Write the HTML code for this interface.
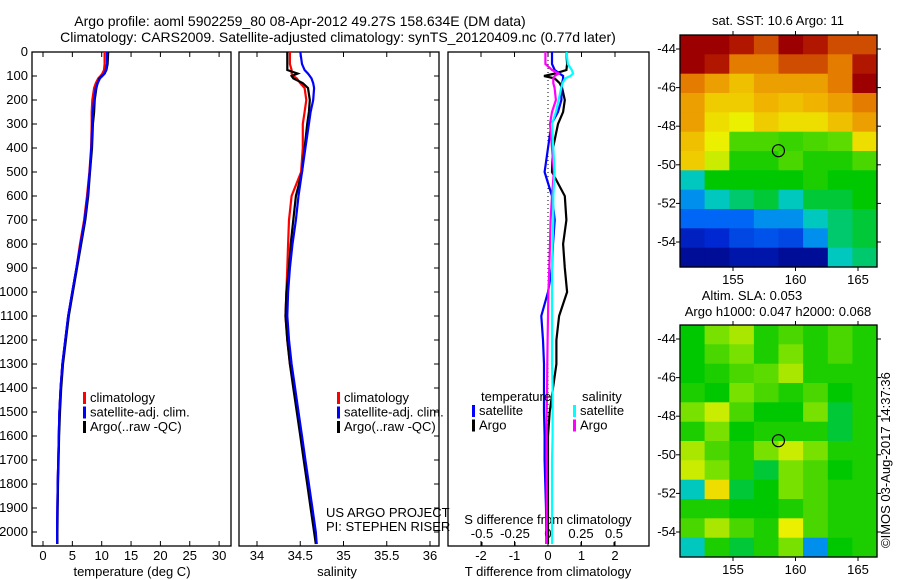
<!DOCTYPE html>
<html><head><meta charset="utf-8"><style>
html,body{margin:0;padding:0;background:#fff}
svg{display:block;font-family:"Liberation Sans",sans-serif;font-size:13px}
</style></head><body>
<svg id="c" width="900" height="580" viewBox="0 0 900 580">
<text x="300" y="26" text-anchor="middle" font-size="14">Argo profile: aoml 5902259_80 08-Apr-2012 49.27S 158.634E (DM data)</text>
<text x="338" y="42" text-anchor="middle" font-size="14">Climatology: CARS2009. Satellite-adjusted climatology: synTS_20120409.nc (0.77d later)</text>
<text x="778" y="25" text-anchor="middle">sat. SST: 10.6 Argo: 11</text>
<text x="752" y="300" text-anchor="middle">Altim. SLA: 0.053</text>
<text x="778" y="316" text-anchor="middle">Argo h1000: 0.047 h2000: 0.068</text>
<text transform="translate(890,548) rotate(-90)">©IMOS 03-Aug-2017 14:37:36</text>
<g id="g"></g>
</svg>
<script>
const depths=[0,50,75,90,100,110,130,150,200,250,300,400,500,600,700,800,900,1000,1100,1200,1300,1400,1500,1600,1700,1800,1900,2000,2050];
const tempArgo=[11.1,11.0,10.8,10.5,10.0,9.6,9.3,9.1,8.8,8.7,8.5,8.35,8.0,7.7,7.2,6.5,5.8,5.1,4.4,3.9,3.4,3.1,2.9,2.75,2.65,2.55,2.5,2.45,2.45];
const tempClim=[10.5,10.5,10.4,10.1,9.8,9.4,9.0,8.7,8.4,8.3,8.3,8.2,7.9,7.5,7.0,6.3,5.7,5.0,4.3,3.8,3.3,3.0,2.8,2.7,2.6,2.5,2.45,2.4,2.4];
const tempSat=[10.9,10.9,10.7,10.5,10.1,9.7,9.3,9.0,8.7,8.5,8.4,8.25,7.95,7.6,7.1,6.4,5.7,5.0,4.3,3.8,3.3,3.0,2.8,2.7,2.6,2.5,2.45,2.4,2.4];
const salArgo=[34.35,34.35,34.35,34.47,34.40,34.42,34.53,34.59,34.61,34.60,34.58,34.55,34.52,34.45,34.42,34.39,34.37,34.34,34.33,34.35,34.38,34.42,34.46,34.50,34.54,34.58,34.62,34.66,34.68];
const salClim=[34.38,34.38,34.40,34.40,34.42,34.46,34.50,34.55,34.57,34.55,34.53,34.53,34.51,34.40,34.37,34.36,34.35,34.34,34.33,34.35,34.38,34.43,34.47,34.51,34.55,34.59,34.63,34.67,34.69];
const salSat=[34.50,34.52,34.55,34.59,34.61,34.63,34.65,34.66,34.65,34.62,34.60,34.56,34.52,34.48,34.45,34.41,34.38,34.36,34.35,34.37,34.40,34.44,34.48,34.52,34.56,34.60,34.64,34.68,34.69];
const tdiffArgo=[0.55,0.57,0.55,0.2,-0.12,0.2,0.35,0.42,0.5,0.45,0.3,0.15,0.12,0.5,0.55,0.45,0.5,0.57,0.33,0.25,0.25,0.15,0.05,0,0,0,0,0,0];
const tdiffSat=[0.12,0.12,0.2,0.35,0.45,0.45,0.42,0.4,0.4,0.3,0.1,0,-0.1,0.12,0.2,0.15,0.12,0,-0.2,-0.15,-0.12,-0.12,-0.12,-0.1,-0.1,-0.08,-0.06,-0.05,-0.05];
const sdiffArgo=[-0.02,-0.02,0.03,0.08,0.05,0.04,0.04,0.05,0.06,0.03,0.015,0.03,0.045,0.03,0.02,0.015,0.01,0.003,0.0,-0.003,-0.005,-0.007,-0.01,-0.01,-0.01,-0.01,-0.01,-0.01,-0.01];
const sdiffSat=[0.14,0.15,0.18,0.19,0.17,0.13,0.11,0.1,0.08,0.06,0.03,0.04,0.05,0.04,0.04,0.035,0.03,0.03,0.03,0.03,0.03,0.035,0.035,0.035,0.03,0.03,0.03,0.03,0.03];
const depthTicks=[0,100,200,300,400,500,600,700,800,900,1000,1100,1200,1300,1400,1500,1600,1700,1800,1900,2000];
const tempTicks=[0,5,10,15,20,25,30];
const salTicks=[34,34.5,35,35.5,36];
const tdTicks=[-2,-1,0,1,2];
const sdTicks=[-0.5,-0.25,0,0.25,0.5];
const latTicks=[-44,-46,-48,-50,-52,-54];
const lonTicks=[155,160,165];
const sstGrid=[
[0.95,0.95,0.9,0.85,0.95,0.9,0.85,0.85],
[0.95,0.9,0.8,0.8,0.85,0.85,0.8,0.9],
[0.8,0.75,0.7,0.75,0.75,0.75,0.8,0.95],
[0.75,0.68,0.68,0.72,0.7,0.72,0.75,0.8],
[0.75,0.65,0.62,0.68,0.65,0.65,0.7,0.75],
[0.7,0.62,0.5,0.5,0.48,0.5,0.52,0.65],
[0.68,0.6,0.45,0.45,0.5,0.45,0.45,0.5],
[0.35,0.42,0.42,0.42,0.42,0.45,0.42,0.42],
[0.3,0.35,0.38,0.4,0.35,0.4,0.4,0.42],
[0.25,0.25,0.25,0.3,0.3,0.35,0.38,0.4],
[0.12,0.15,0.2,0.22,0.2,0.3,0.38,0.4],
[0.05,0.05,0.08,0.08,0.05,0.05,0.35,0.38]];
const slaGrid=[
[0.42,0.55,0.58,0.45,0.5,0.45,0.5,0.45],
[0.42,0.5,0.55,0.45,0.55,0.45,0.5,0.45],
[0.42,0.45,0.5,0.52,0.58,0.45,0.45,0.45],
[0.45,0.42,0.55,0.5,0.45,0.5,0.42,0.45],
[0.55,0.6,0.5,0.42,0.42,0.55,0.4,0.45],
[0.45,0.55,0.42,0.45,0.45,0.45,0.4,0.45],
[0.58,0.5,0.45,0.55,0.6,0.55,0.45,0.45],
[0.6,0.55,0.45,0.4,0.55,0.5,0.42,0.45],
[0.35,0.65,0.4,0.42,0.55,0.5,0.45,0.45],
[0.45,0.45,0.42,0.42,0.45,0.5,0.45,0.45],
[0.5,0.58,0.5,0.45,0.62,0.5,0.45,0.45],
[0.35,0.45,0.4,0.45,0.55,0.3,0.42,0.45]];
const argoLon=158.634, argoLat=-49.27;

const NS='http://www.w3.org/2000/svg';
const G=document.getElementById('g');
function mk(tag,attrs,parent){const e=document.createElementNS(NS,tag);for(const k in attrs)e.setAttribute(k,attrs[k]);(parent||G).appendChild(e);return e;}
function txt(x,y,s,anchor,parent){const t=mk('text',{x:x,y:y,'text-anchor':anchor||'start'},parent);t.textContent=s;return t;}
const Y=d=>52+d*0.24;
const PB=546;
function panel(x0,x1,name){const r=mk('rect',{x:x0,y:52,width:x1-x0,height:PB-52,fill:'none',stroke:'#000','stroke-width':1.3});

}
function line(xs,xf,color,name){let p='';for(let i=0;i<depths.length;i++){const x=xf(xs[i]).toFixed(1);const y=Y(depths[i]).toFixed(1);p+=(i?'L':'M')+x+','+y;}
const e=mk('path',{d:p,fill:'none',stroke:color,'stroke-width':2.2});

}
function xticks(ticks,xf,labels,y){ticks.forEach((t,i)=>{const x=xf(t);mk('line',{x1:x,x2:x,y1:PB,y2:PB-5,stroke:'#000'});mk('line',{x1:x,x2:x,y1:52,y2:57,stroke:'#000'});
const l=txt(x,y,labels[i],'middle');

});}
const tX=v=>43+v*5.87;
panel(32,231,'temperature-panel');
depthTicks.forEach(d=>{mk('line',{x1:32,x2:37,y1:Y(d),y2:Y(d),stroke:'#000'});
const l=txt(28,Y(d)+4,String(d),'end');

});
xticks(tempTicks,tX,tempTicks.map(String),560);
line(tempClim,tX,'#f00','temp-climatology-line');
line(tempSat,tX,'#00f','temp-satellite-line');
line(tempArgo,tX,'#000','temp-argo-line');
line(tempSat,tX,'#00f','temp-satellite-line-top');
let a=txt(132,576,'temperature (deg C)','middle');


function legend(x,y,items,prefix){items.forEach((it,i)=>{mk('rect',{x:x,y:y+i*14.5-10,width:3,height:12,fill:it[0]});
const t=txt(x+7,y+i*14.5,it[1]);

});}
legend(83,402,[['#f00','climatology'],['#00f','satellite-adj. clim.'],['#000','Argo(..raw -QC)']],'temperature');
const sX=v=>257+(v-34)*86.5;
panel(239,439,'salinity-panel');
depthTicks.forEach(d=>{mk('line',{x1:439,x2:434,y1:Y(d),y2:Y(d),stroke:'#000'});});
xticks(salTicks,sX,['34','34.5','35','35.5','36'],560);
line(salClim,sX,'#f00','sal-climatology-line');
line(salArgo,sX,'#000','sal-argo-line');
line(salSat,sX,'#00f','sal-satellite-line');
a=txt(337,576,'salinity','middle');


legend(337,402,[['#f00','climatology'],['#00f','satellite-adj. clim.'],['#000','Argo(..raw -QC)']],'salinity');
a=txt(326,517,'US ARGO PROJECT');


a=txt(326,531,'PI: STEPHEN RISER');


const tdX=v=>548+v*33.5;
const sdX=v=>548+v*132;
panel(448,649,'difference-panel');
xticks(tdTicks,tdX,tdTicks.map(String),560);
sdTicks.forEach(t=>{const x=sdX(t);mk('line',{x1:x,x2:x,y1:PB,y2:PB-4,stroke:'#000'});});
['-0.5','-0.25','0','0.25','0.5'].forEach((s,i)=>{const l=txt(sdX(sdTicks[i]),538,s,'middle');

});
a=txt(548,524,'S difference from climatology','middle');


a=txt(548,576,'T difference from climatology','middle');


mk('line',{x1:548,x2:548,y1:52,y2:PB,stroke:'#000','stroke-dasharray':'1,3'});
line(tdiffArgo,tdX,'#000','tdiff-argo-line');
line(tdiffSat,tdX,'#00f','tdiff-satellite-line');
line(sdiffArgo,sdX,'#f0f','sdiff-argo-line');
line(sdiffSat,sdX,'#0ff','sdiff-satellite-line');
a=txt(481,401,'temperature');


legend(472,415,[['#00f','satellite'],['#000','Argo']],'tdiff');
a=txt(582,401,'salinity');


legend(573,415,[['#0ff','satellite'],['#f0f','Argo']],'sdiff');
const stops=[[0,[0,0,122]],[0.15,[0,40,210]],[0.28,[0,120,255]],[0.35,[0,200,190]],[0.42,[0,200,0]],[0.55,[120,225,0]],[0.62,[235,240,0]],[0.72,[240,180,0]],[0.82,[225,110,0]],[0.92,[165,0,0]],[1,[140,0,0]]];
function cmap(v){for(let i=1;i<stops.length;i++){if(v<=stops[i][0]){const a=stops[i-1],b=stops[i];const f=(v-a[0])/(b[0]-a[0]);const c=a[1].map((x,k)=>Math.round(x+(b[1][k]-x)*f));return 'rgb('+c+')';}}return 'rgb(140,0,0)';}
const lonX=l=>733+(l-155)*12.5;
function map(y0,grid,name){const x0=680,x1=877,y1=y0+232;const latY=l=>y0+14+(-44-l)*19.3;
const rows=grid.length,cols=grid[0].length;const cw=(x1-x0)/cols,rh=(y1-y0)/rows;
const g=mk('g',{});

grid.forEach((row,r)=>row.forEach((v,c)=>{const cell=mk('rect',{x:(x0+c*cw).toFixed(1),y:(y0+r*rh).toFixed(1),width:(cw+0.6).toFixed(1),height:(rh+0.6).toFixed(1),fill:cmap(v)},g);

}));
mk('rect',{x:x0,y:y0,width:x1-x0,height:y1-y0,fill:'none',stroke:'#000','stroke-width':1.3});
latTicks.forEach(l=>{const y=latY(l);mk('line',{x1:x0,x2:x0-4,y1:y,y2:y,stroke:'#000'});mk('line',{x1:x1,x2:x1+4,y1:y,y2:y,stroke:'#000'});
const t=txt(x0-4,y+4,String(l),'end');

});
lonTicks.forEach(l=>{const x=lonX(l);mk('line',{x1:x,x2:x,y1:y0,y2:y0-4,stroke:'#000'});mk('line',{x1:x,x2:x,y1:y1,y2:y1+4,stroke:'#000'});
const t=txt(x,y1+17,String(l),'middle');

});
const m=mk('circle',{cx:lonX(argoLon),cy:latY(argoLat),r:6,fill:'none',stroke:'#000','stroke-width':1.2});

}
map(35,sstGrid,'sst-map');
map(325,slaGrid,'sla-map');
</script>
</body></html>
